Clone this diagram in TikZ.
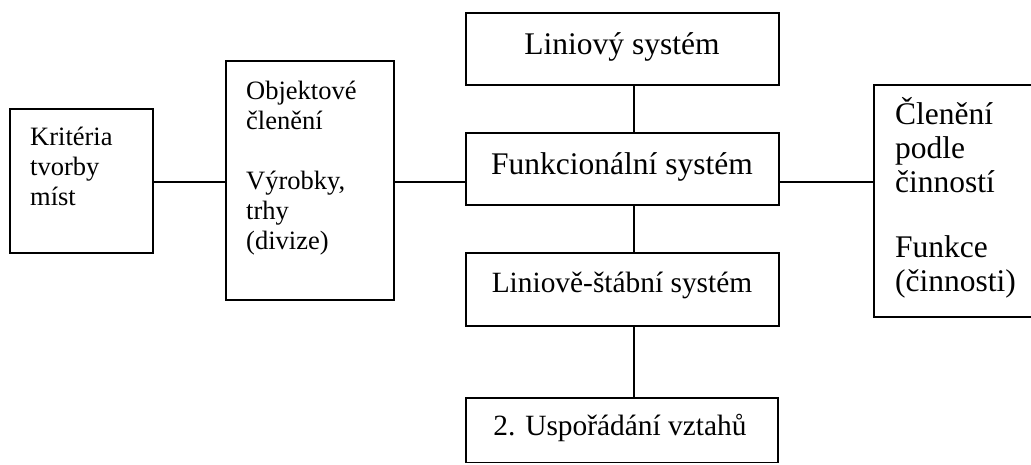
\documentclass[tikz,border=0pt]{standalone}
\usepackage{fontspec}
\setmainfont{Liberation Serif}
\begin{document}
\begin{tikzpicture}[x=1pt,y=-1pt,
  box/.style={draw=black,line width=1.6pt,fill=none,inner sep=0pt,outer sep=0pt,anchor=north west},
  link/.style={draw=black,line width=1.4pt},
  small/.style={inner sep=0pt,font=\fontsize{26.5}{30}\selectfont},
  big/.style={inner sep=0pt,font=\fontsize{31.5}{34}\selectfont},
  mid/.style={inner sep=0pt,font=\fontsize{29.4}{33}\selectfont}]
\useasboundingbox (0,0) rectangle (1031,464);
\clip (0,0) rectangle (1031,464);

% boxes
\node[box,minimum width=143pt,minimum height=144pt] (krit) at (10,109) {};
\node[box,minimum width=168pt,minimum height=239pt] (obj) at (226,61) {};
\node[box,minimum width=313pt,minimum height=72pt] (lin) at (466,13) {};
\node[box,minimum width=313pt,minimum height=72pt] (fun) at (466,133) {};
\node[box,minimum width=313pt,minimum height=73pt] (stab) at (466,253) {};
\node[box,minimum width=312pt,minimum height=64.5pt] (usp) at (466,398) {};
\node[box,minimum width=180pt,minimum height=232pt] (cin) at (874,85) {};

% connector guides
\coordinate (row) at (0,182);
\coordinate (col) at (634,0);

% connectors
\draw[link] (krit.east |- row) -- (obj.west |- row);
\draw[link] (obj.east |- row) -- (fun.west |- row);
\draw[link] (fun.east |- row) -- (cin.west |- row);
\draw[link] (lin.south -| col) -- (fun.north -| col);
\draw[link] (fun.south -| col) -- (stab.north -| col);
\draw[link] (stab.south -| col) -- (usp.north -| col);

% texts
\node[small,anchor=base west] (k1) at (30,145) {Kritéria};
\node[small,anchor=base west] (k2) at (30,175) {tvorby};
\node[small,anchor=base west] (k3) at (30,205) {míst};

\node[small,anchor=base west] (o1) at (246,99) {Objektové};
\node[small,anchor=base west] (o2) at (246,129) {členění};
\node[small,anchor=base west] (o3) at (246,189) {Výrobky,};
\node[small,anchor=base west] (o4) at (246,219) {trhy};
\node[small,anchor=base west] (o5) at (246,249) {(divize)};

\node[big,anchor=base] (l1) at (622,54) {Liniový systém};
\node[big,anchor=base] (f1) at (622,174) {Funkcionální systém};
\node[mid,anchor=base] (s1) at (622,292) {Liniově-štábní systém};
\node[mid,anchor=base] (u1) at (620,435) {2. Uspořádání vztahů};

\node[big,anchor=base west] (c1) at (895,124) {Členění};
\node[big,anchor=base west] (c2) at (895,158) {podle};
\node[big,anchor=base west] (c3) at (895,192) {činností};
\node[big,anchor=base west] (c4) at (895,257) {Funkce};
\node[big,anchor=base west] (c5) at (895,291) {(činnosti)};
\end{tikzpicture}
\end{document}
